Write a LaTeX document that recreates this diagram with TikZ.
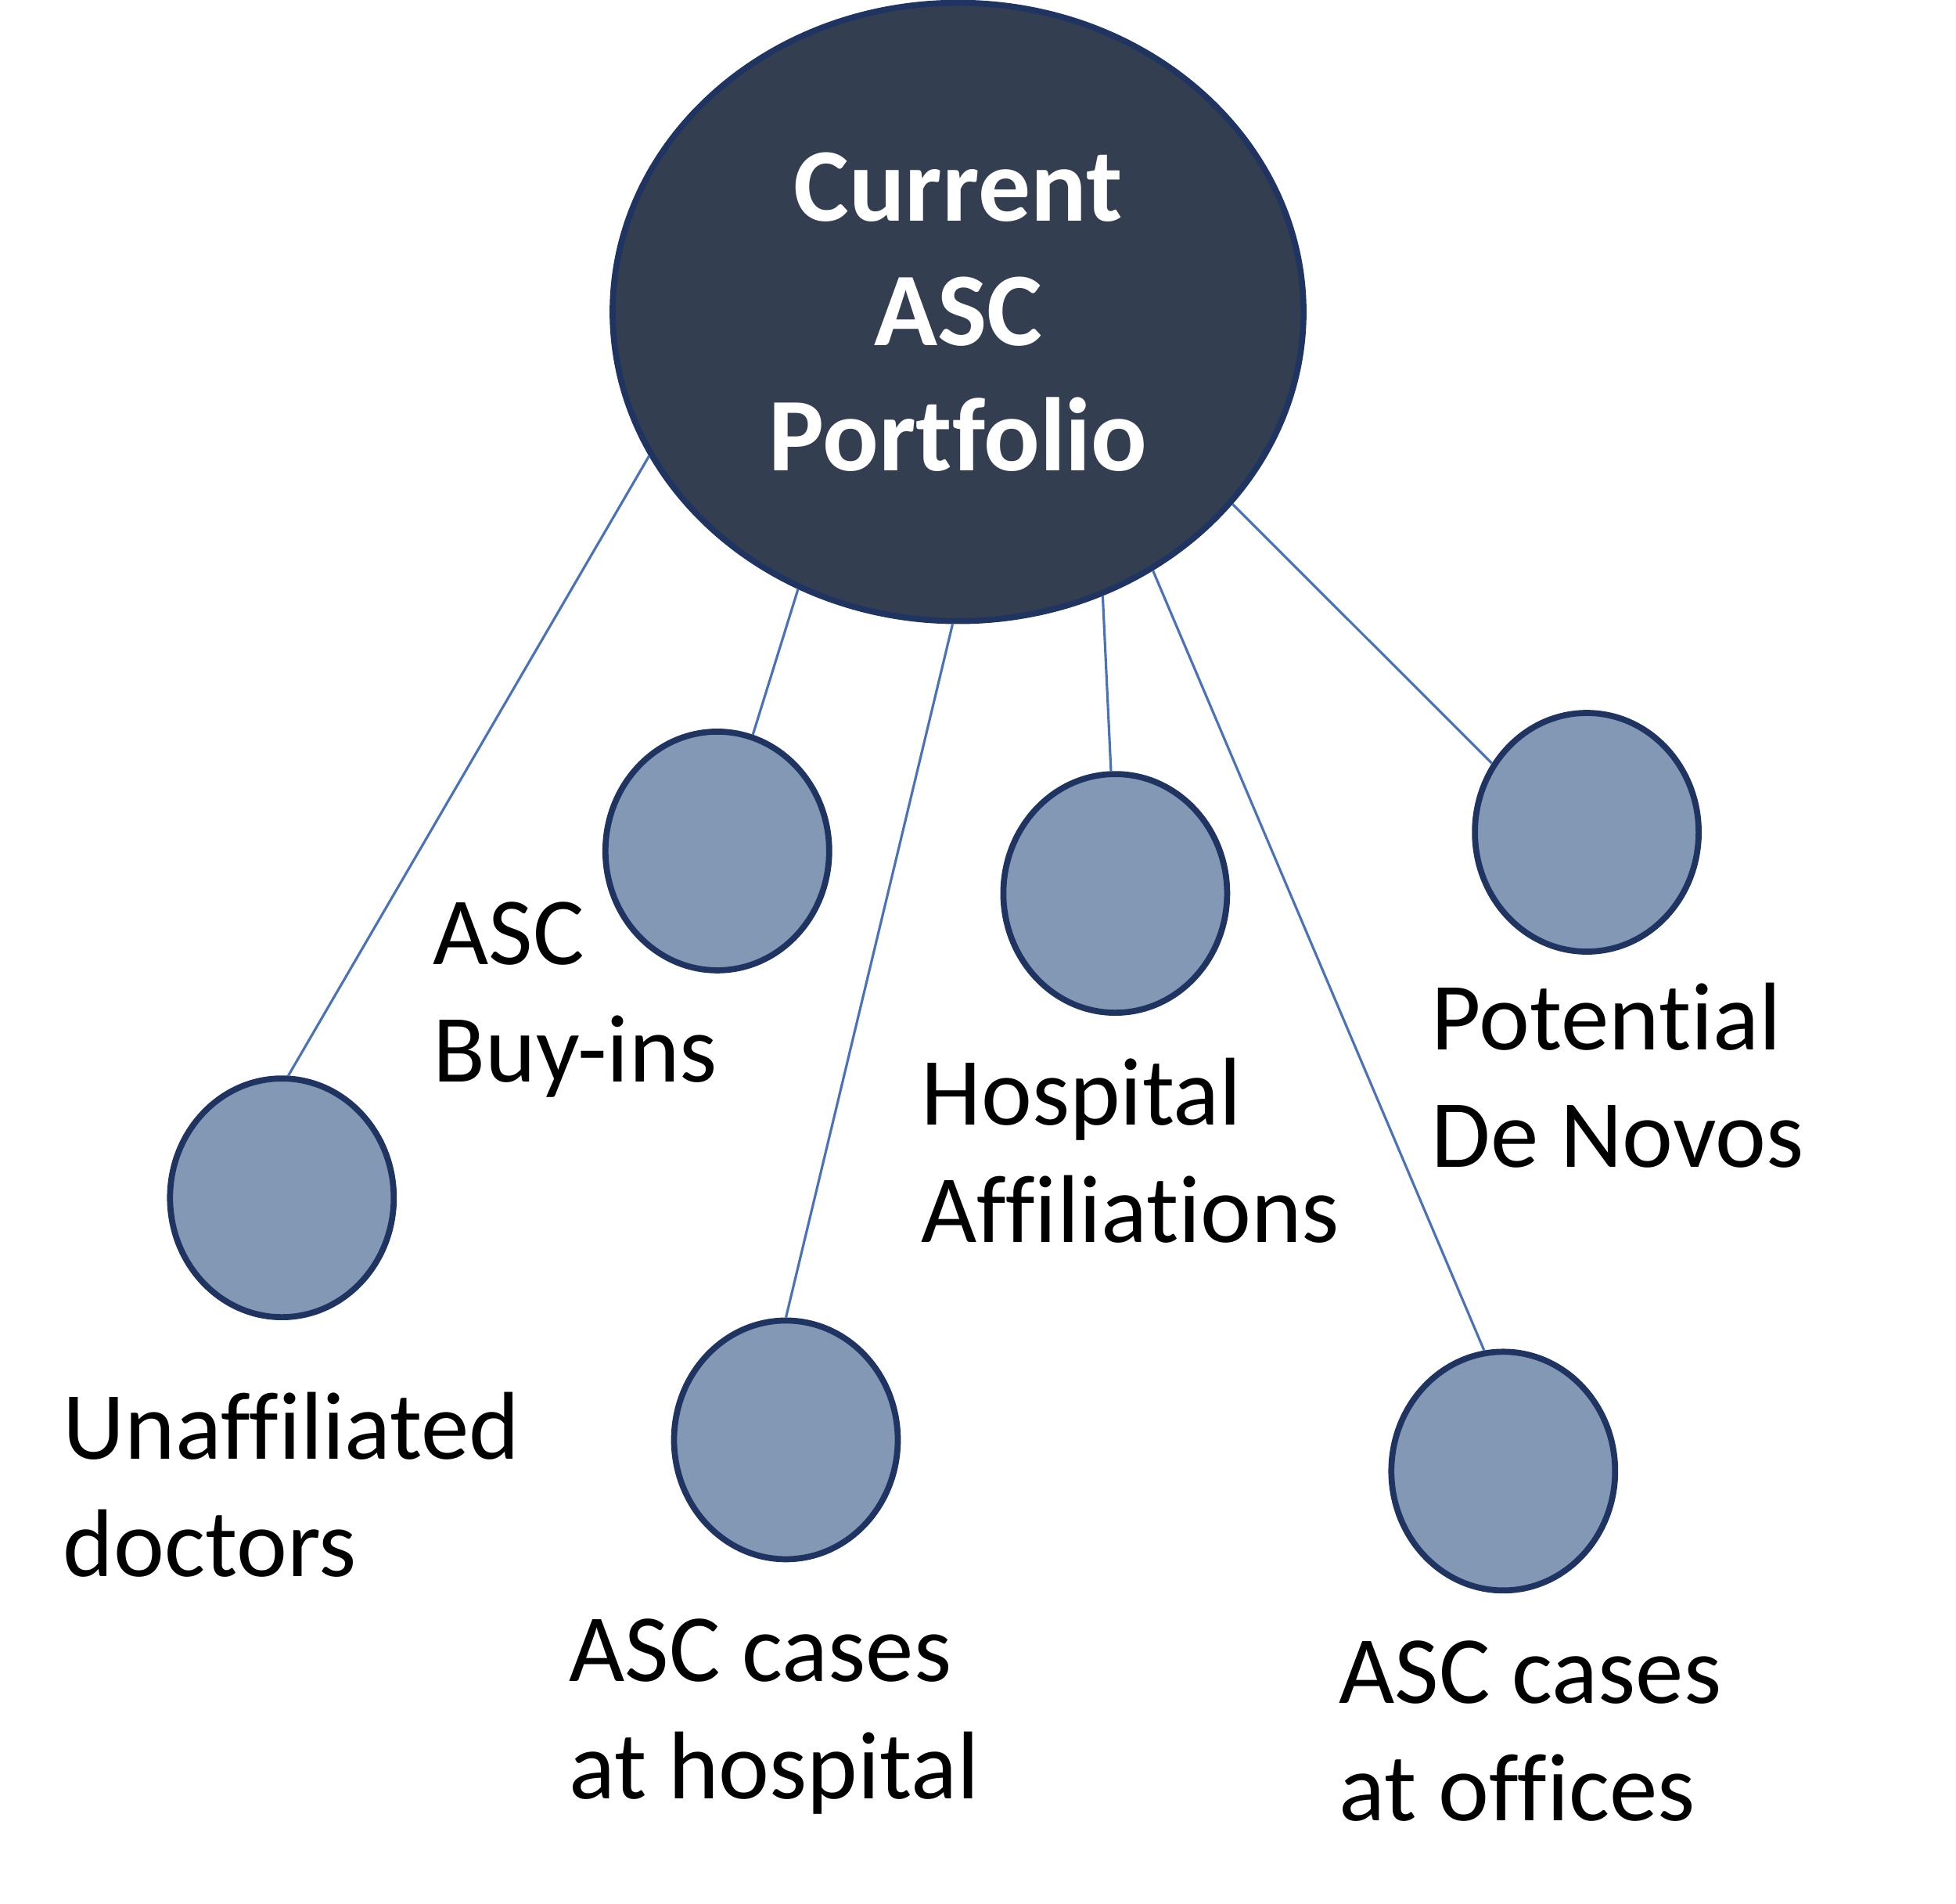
\documentclass[tikz,border=0pt]{standalone}
\usepackage{fontspec}
\setmainfont{Carlito}[Ligatures=NoCommon]
\usetikzlibrary{shapes.geometric}
\definecolor{hubfill}{HTML}{333E50}
\definecolor{navyline}{HTML}{1F3461}
\definecolor{leaffill}{HTML}{8398B5}
\definecolor{linkblue}{HTML}{4A72B8}

\begin{document}
\begin{tikzpicture}[
    hub/.style={draw=navyline, line width=2.2pt, fill=hubfill, ellipse, minimum width=8.83cm, minimum height=7.9cm,
                text=white, align=center, font=\fontsize{38}{45.5}\selectfont\bfseries},
    leaf/.style={draw=navyline, line width=2.2pt, fill=leaffill, ellipse, minimum width=2.86cm, minimum height=3.05cm},
    lbl/.style={anchor=west, align=left, inner sep=0pt, font=\fontsize{35}{42.7}\selectfont},
    link/.style={draw=linkblue, line width=0.9pt}]
    \useasboundingbox (0,0) rectangle (25,-24.32);

    % Portefeuille central
    \node[hub] (main) at (12.245,-3.986) {Current\\ASC\\Portfolio};

    % Cercles
    \node[leaf] (unaff) at (3.603,-15.306) {};
    \node[leaf] (buyins) at (9.168,-10.874) {};
    \node[leaf] (hospcases) at (10.045,-18.399) {};
    \node[leaf] (affil) at (14.254,-11.416) {};
    \node[leaf] (offices) at (19.213,-18.798) {};
    \node[leaf] (novos) at (20.281,-10.635) {};

    % Textes
    \node[lbl] (unafftxt) at (0.80,-18.97) {Unaffiliated\\doctors};
    \node[lbl] (buyinstxt) at (5.53,-12.77) {ASC\\Buy-ins};
    \node[lbl] (hospcasestxt) at (7.27,-21.93) {ASC cases\\at hospital};
    \node[lbl] (affiltxt) at (11.77,-14.70) {Hospital\\Affiliations};
    \node[lbl] (novostxt) at (18.29,-13.74) {Potential\\De Novos};
    \node[lbl] (officestxt) at (17.11,-22.12) {ASC cases\\at offices};

    % Liens
    \draw[link] (main.205) -- (unaff.87);
    \draw[link] (main.240) -- (buyins.73);
    \draw[link] (main.269) -- (hospcases.90);
    \draw[link] (main.297) -- (affil.92);
    \draw[link] (main.307) -- (offices.99);
    \draw[link] (main.325) -- (novos.144);
\end{tikzpicture}
\end{document}
